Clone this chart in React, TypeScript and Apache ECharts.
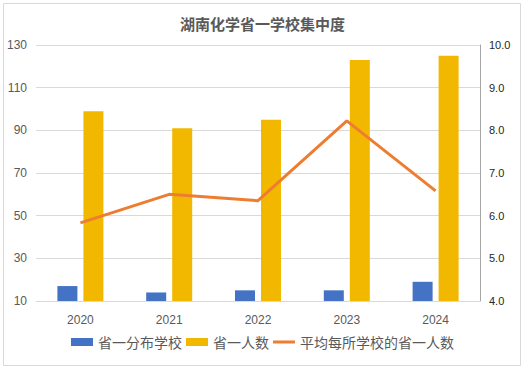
import React, { useEffect, useRef } from "react";
import * as echarts from "echarts";

const categories = ["2020", "2021", "2022", "2023", "2024"];
const schools = [17, 14, 15, 15, 19];
const winners = [99, 91, 95, 123, 125];
const avgPerSchool = [5.83, 6.5, 6.35, 8.22, 6.58];

const FONT = '"Noto Sans CJK SC", "Microsoft YaHei", sans-serif';

export default function App() {
  const ref = useRef<HTMLDivElement>(null);
  useEffect(() => {
    document.body.style.margin = "0";
    const chart = echarts.init(ref.current!, null, { renderer: "svg" });
    chart.setOption({
      animation: false,
      backgroundColor: "#ffffff",
      textStyle: { fontFamily: FONT },
      title: {
        text: "湖南化学省一学校集中度",
        left: "center",
        top: 11,
        textStyle: { fontSize: 15, fontWeight: "bold", color: "#595959", fontFamily: FONT },
      },
      graphic: [
        {
          type: "rect",
          shape: { x: 3.5, y: 3.5, width: 517, height: 362 },
          style: { fill: "none", stroke: "#d9d9d9", lineWidth: 1 },
          silent: true,
        },
      ],
      legend: {
        bottom: 17,
        left: "center",
        itemWidth: 22,
        itemHeight: 8,
        itemGap: 4,
        textStyle: { fontSize: 14, color: "#595959", fontFamily: FONT },
        data: [
          { name: "省一分布学校", icon: "rect" },
          { name: "省一人数", icon: "rect" },
          { name: "平均每所学校的省一人数", icon: "path://M0,0 L22,0 L22,3 L0,3 Z" },
        ],
      },
      grid: { left: 36, right: 45, top: 45, bottom: 70 },
      xAxis: {
        type: "category",
        data: categories,
        axisTick: { show: false },
        axisLine: { lineStyle: { color: "#d9d9d9" } },
        axisLabel: { color: "#595959", fontSize: 12, margin: 13, fontFamily: "Liberation Sans, sans-serif" },
      },
      yAxis: [
        {
          type: "value",
          min: 10,
          max: 130,
          interval: 20,
          axisLine: { show: false },
          axisTick: { show: false },
          splitLine: { lineStyle: { color: "#d9d9d9" } },
          axisLabel: { color: "#595959", fontSize: 12, margin: 9, fontFamily: "Liberation Sans, sans-serif" },
        },
        {
          type: "value",
          min: 4,
          max: 10,
          interval: 1,
          axisLine: { show: true, lineStyle: { color: "#a6a6a6" } },
          axisTick: { show: false },
          splitLine: { show: false },
          axisLabel: {
            color: "#262626",
            fontSize: 11,
            margin: 9,
            fontFamily: "Liberation Sans, sans-serif",
            formatter: (v: number) => v.toFixed(1),
          },
        },
      ],
      series: [
        {
          name: "省一分布学校",
          type: "bar",
          data: schools,
          barWidth: 20,
          barGap: "30%",
          itemStyle: { color: "#4472c4" },
        },
        {
          name: "省一人数",
          type: "bar",
          data: winners,
          barWidth: 20,
          itemStyle: { color: "#f2b800" },
        },
        {
          name: "平均每所学校的省一人数",
          type: "line",
          yAxisIndex: 1,
          data: avgPerSchool,
          symbol: "none",
          lineStyle: { color: "#ed7d31", width: 3 },
          itemStyle: { color: "#ed7d31" },
        },
      ],
    });
    return () => chart.dispose();
  }, []);
  return (
    <div
      ref={ref}
      style={{ position: "absolute", left: 0, top: 0, width: 525, height: 371 }}
    />
  );
}
